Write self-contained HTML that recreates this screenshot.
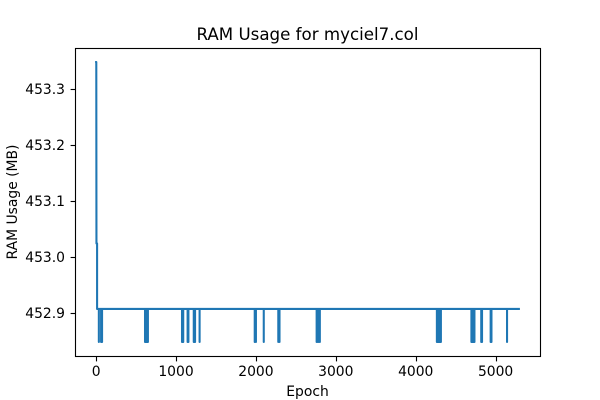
<!DOCTYPE html>
<html>
<head>
<meta charset="utf-8">
<style>
html,body{margin:0;padding:0;background:#fff;width:600px;height:400px;overflow:hidden}
svg{display:block}
text{font-family:"DejaVu Sans",sans-serif;fill:#000}
</style>
</head>
<body>
<svg id="chart" width="600" height="400" viewBox="0 0 600 400" xmlns="http://www.w3.org/2000/svg">
<rect width="600" height="400" fill="#fff"/>
<g id="marks"></g>
<g id="axes"></g>
<text x="307.5" y="40" font-size="16.67" text-anchor="middle">RAM Usage for myciel7.col</text>
<text x="307.5" y="396" font-size="13.89" text-anchor="middle">Epoch</text>
<text x="0" y="0" font-size="13.89" text-anchor="middle" transform="translate(17,202) rotate(-90)">RAM Usage (MB)</text>
</svg>
<script>
const xTicks = [0, 1000, 2000, 3000, 4000, 5000];
const yTicks = [452.9, 453.0, 453.1, 453.2, 453.3];
const yTickLabels = ["452.9", "453.0", "453.1", "453.2", "453.3"];
const headEpochs = [0, 2, 4, 12];
const headUsage = [453.348, 453.348, 453.024, 453.024];
const baselineUsage = 452.907;
const spikeUsage = 452.848;
const spikeEpochs = [34, 62, 74, 612, 624, 636, 648, 1075, 1090, 1145, 1155, 1222, 1238, 1295, 1985, 2000, 2098, 2280, 2295, 2760, 2772, 2785, 2800, 4265, 4278, 4290, 4303, 4315, 4697, 4710, 4722, 4735, 4820, 4830, 4938, 4948, 5143];
const lastEpoch = 5291;

const NS = "http://www.w3.org/2000/svg";
const plotLeft = 75, plotRight = 540, plotTop = 48, plotBottom = 356;
const xMin = -264.5, xMax = 5555.5;
const yMin = 452.823, yMax = 453.373;
function xScale(v) { return plotLeft + (v - xMin) / (xMax - xMin) * (plotRight - plotLeft); }
function yScale(v) { return plotBottom - (v - yMin) / (yMax - yMin) * (plotBottom - plotTop); }

const marks = document.getElementById("marks");
const axes = document.getElementById("axes");

let d = "";
headEpochs.forEach(function (e, i) {
  d += (i ? "L" : "M") + xScale(e).toFixed(2) + " " + yScale(headUsage[i]).toFixed(2);
});
d += "L" + xScale(headEpochs[headEpochs.length - 1]).toFixed(2) + " " + yScale(baselineUsage).toFixed(2);
spikeEpochs.forEach(function (e) {
  d += "L" + xScale(e).toFixed(2) + " " + yScale(baselineUsage).toFixed(2);
  d += "L" + xScale(e).toFixed(2) + " " + yScale(spikeUsage).toFixed(2);
  d += "L" + xScale(e).toFixed(2) + " " + yScale(baselineUsage).toFixed(2);
});
d += "L" + xScale(lastEpoch).toFixed(2) + " " + yScale(baselineUsage).toFixed(2);

const line = document.createElementNS(NS, "path");


line.setAttribute("d", d);
line.setAttribute("fill", "none");
line.setAttribute("stroke", "#1f77b4");
line.setAttribute("stroke-width", "2.08");
line.setAttribute("stroke-linejoin", "round");
line.setAttribute("stroke-linecap", "square");
marks.appendChild(line);

const frame = document.createElementNS(NS, "rect");


frame.setAttribute("x", plotLeft + 0.5);
frame.setAttribute("y", plotTop + 0.5);
frame.setAttribute("width", plotRight - plotLeft);
frame.setAttribute("height", plotBottom - plotTop);
frame.setAttribute("fill", "none");
frame.setAttribute("stroke", "#000");
frame.setAttribute("stroke-width", "1.11");
axes.appendChild(frame);

xTicks.forEach(function (t) {
  const px = Math.round(xScale(t)) + 0.5;
  const tick = document.createElementNS(NS, "line");
  
  
  tick.setAttribute("x1", px);
  tick.setAttribute("x2", px);
  tick.setAttribute("y1", plotBottom + 0.5);
  tick.setAttribute("y2", plotBottom + 5.4);
  tick.setAttribute("stroke", "#000");
  tick.setAttribute("stroke-width", "1.11");
  axes.appendChild(tick);
  const label = document.createElementNS(NS, "text");
  
  
  label.setAttribute("x", xScale(t));
  label.setAttribute("y", 376);
  label.setAttribute("font-size", "13.89");
  label.setAttribute("text-anchor", "middle");
  label.textContent = String(t);
  axes.appendChild(label);
});

yTicks.forEach(function (t, i) {
  const py = Math.round(yScale(t)) + 0.5;
  const tick = document.createElementNS(NS, "line");
  
  
  tick.setAttribute("x1", plotLeft + 0.5);
  tick.setAttribute("x2", plotLeft - 4.4);
  tick.setAttribute("y1", py);
  tick.setAttribute("y2", py);
  tick.setAttribute("stroke", "#000");
  tick.setAttribute("stroke-width", "1.11");
  axes.appendChild(tick);
  const label = document.createElementNS(NS, "text");
  
  
  label.setAttribute("x", plotLeft - 10);
  label.setAttribute("y", yScale(t) + 5.2);
  label.setAttribute("font-size", "13.89");
  label.setAttribute("text-anchor", "end");
  label.textContent = yTickLabels[i];
  axes.appendChild(label);
});
</script>
</body>
</html>
